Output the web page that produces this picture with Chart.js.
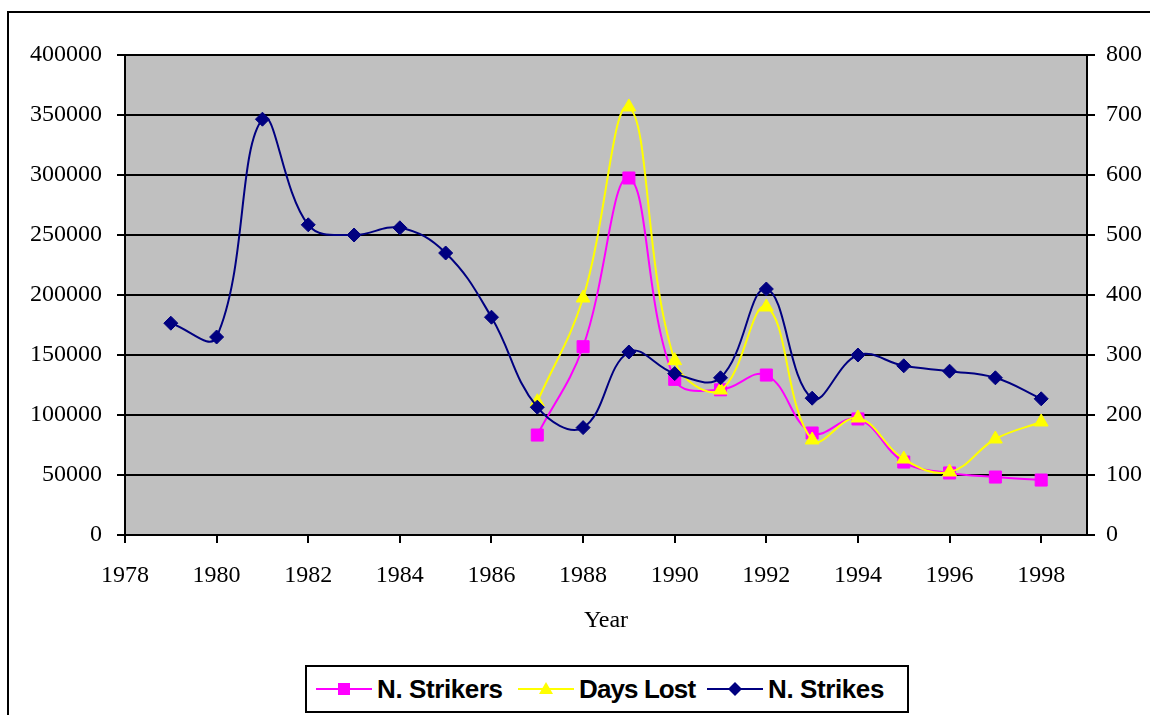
<!DOCTYPE html>
<html>
<head>
<meta charset="utf-8">
<script src="https://cdn.jsdelivr.net/npm/chart.js@4.4.1/dist/chart.umd.min.js"></script>
<style>
  body { margin:0; background:#fff; width:1150px; height:715px; overflow:hidden; position:relative; }
  #frame { position:absolute; left:7px; top:11px; width:1300px; height:900px; border-left:2px solid #000; border-top:2px solid #000; }
  #c { position:absolute; left:0; top:0; }
  #legend { position:absolute; left:305px; top:665px; width:600px; height:44px; border:2px solid #000; background:#fff;
            font:bold 26px "Liberation Sans", Arial, sans-serif; color:#000; }
  .item { position:absolute; top:0; height:44px; display:flex; align-items:center; white-space:nowrap; letter-spacing:-0.4px; }
  .item svg { margin-right:5px; }
</style>
</head>
<body>
<div id="frame"></div>
<canvas id="c" width="1150" height="715"></canvas>
<div id="legend">
  <div class="item" style="left:9px">
    <svg width="56" height="20"><line x1="0" y1="10" x2="56" y2="10" stroke="#FF00FF" stroke-width="2"/><rect x="22" y="4" width="12" height="12" fill="#FF00FF"/></svg>N. Strikers</div>
  <div class="item" style="left:211px">
    <svg width="56" height="20"><line x1="0" y1="10" x2="56" y2="10" stroke="#FFFF00" stroke-width="2"/><polygon points="28,3 35,15 21,15" fill="#FFFF00"/></svg><span style="letter-spacing:-0.9px">Days Lost</span></div>
  <div class="item" style="left:400px">
    <svg width="56" height="20"><line x1="0" y1="10" x2="56" y2="10" stroke="#000080" stroke-width="2"/><polygon points="28,3 35,10 28,17 21,10" fill="#000080"/></svg>N. Strikes</div>
</div>
<script>
// ---- data ----
const yearsAll  = [1979,1980,1981,1982,1983,1984,1985,1986,1987,1988,1989,1990,1991,1992,1993,1994,1995,1996,1997,1998];
const yearsLate = [1987,1988,1989,1990,1991,1992,1993,1994,1995,1996,1997,1998];
const nStrikes  = [353,330,693,517,500,512,470,363,213,179,305,269,262,410,228,300,282,273,262,227];   // right axis
const nStrikers = [83300,156900,297500,129700,121000,133300,85000,96700,60800,51700,48300,45800];   // left axis
const daysLost  = [111000,197500,356700,145300,120800,190000,79200,97500,63300,52500,80000,94200];   // left axis
const xTicks     = [1978,1980,1982,1984,1986,1988,1990,1992,1994,1996,1998];
const leftTicks  = [0,50000,100000,150000,200000,250000,300000,350000,400000];
const rightTicks = [0,100,200,300,400,500,600,700,800];

const pts = (xs, ys) => xs.map((x, i) => ({ x: x, y: ys[i] }));

const plotBg = {
  id: 'plotBg',
  beforeDraw(chart) {
    const { ctx, chartArea: a } = chart;
    ctx.save();
    ctx.fillStyle = '#C0C0C0';
    ctx.fillRect(a.left, a.top, a.right - a.left, a.bottom - a.top);
    ctx.restore();
  }
};

const serif = { family: '"Liberation Serif", "Times New Roman", serif', size: 24 };

new Chart(document.getElementById('c'), {
  type: 'line',
  data: {
    datasets: [
      { label: 'N. Strikes', data: pts(yearsAll, nStrikes), yAxisID: 'y1',
        borderColor: '#000080', backgroundColor: '#000080', borderWidth: 2,
        pointStyle: 'rectRot', pointRadius: 7, pointBorderWidth: 1, tension: 0.4 },
      { label: 'Days Lost', data: pts(yearsLate, daysLost), yAxisID: 'y',
        borderColor: '#FFFF00', backgroundColor: '#FFFF00', borderWidth: 2,
        pointStyle: 'triangle', pointRadius: 8, pointBorderWidth: 1, tension: 0.4 },
      { label: 'N. Strikers', data: pts(yearsLate, nStrikers), yAxisID: 'y',
        borderColor: '#FF00FF', backgroundColor: '#FF00FF', borderWidth: 2,
        pointStyle: 'rect', pointRadius: 8.5, pointBorderWidth: 1, tension: 0.4 }
    ]
  },
  options: {
    responsive: false,
    devicePixelRatio: 1,
    animation: false,
    layout: { padding: { top: 55, bottom: 75, left: 0, right: 0 } },
    plugins: { legend: { display: false }, tooltip: { enabled: false } },
    scales: {
      x: {
        type: 'linear', position: 'bottom', min: 1978, max: 1999,
        afterBuildTicks: s => { s.ticks = xTicks.map(v => ({ value: v })); },
        afterFit: s => { s.height = 105; },
        grid: { drawOnChartArea: false, color: '#000', lineWidth: 2, tickLength: 8 },
        border: { color: '#000', width: 2 },
        ticks: { font: serif, color: '#000', padding: 18, maxRotation: 0, autoSkip: false, callback: v => String(v) },
        title: { display: true, text: 'Year', font: serif, color: '#000', padding: { top: 0, bottom: 5 } }
      },
      y: {
        position: 'left', min: 0, max: 400000,
        afterBuildTicks: s => { s.ticks = leftTicks.map(v => ({ value: v })); },
        afterFit: s => { s.width = 125; },
        grid: { color: '#000', lineWidth: 2, tickLength: 8 },
        border: { color: '#000', width: 2 },
        ticks: { font: serif, color: '#000', padding: 15, callback: v => String(v) }
      },
      y1: {
        position: 'right', min: 0, max: 800,
        afterBuildTicks: s => { s.ticks = rightTicks.map(v => ({ value: v })); },
        afterFit: s => { s.width = 63; },
        grid: { drawOnChartArea: false, color: '#000', lineWidth: 2, tickLength: 8 },
        border: { color: '#000', width: 2 },
        ticks: { font: serif, color: '#000', padding: 11, callback: v => String(v) }
      }
    }
  },
  plugins: [plotBg]
});
</script>
</body>
</html>
